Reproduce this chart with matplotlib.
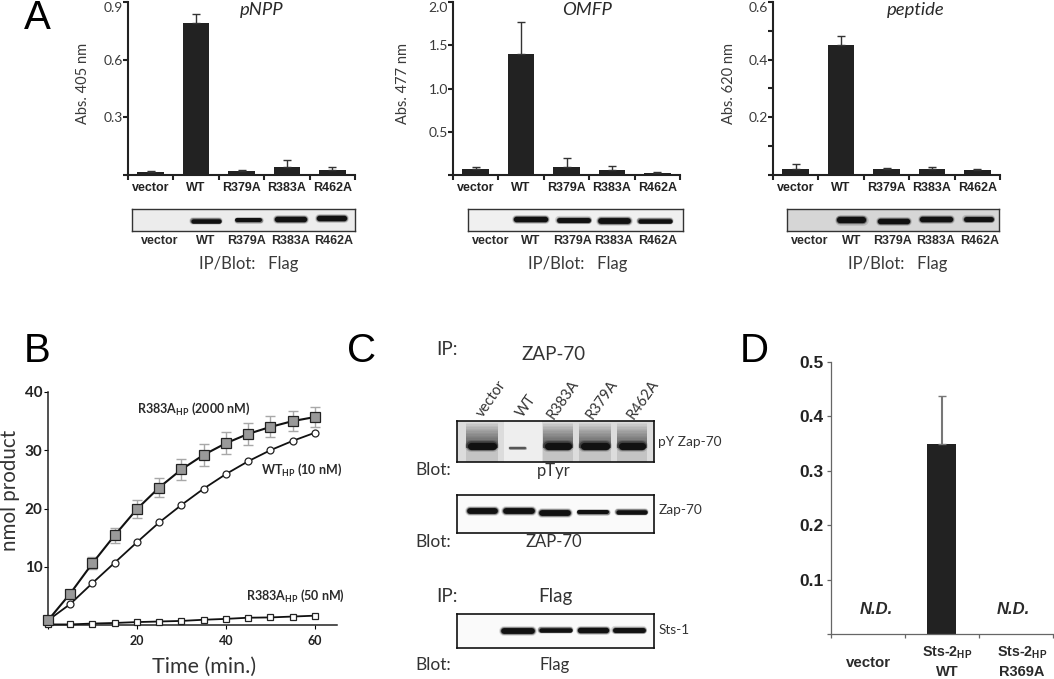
import matplotlib
matplotlib.use('Agg')
import matplotlib.pyplot as plt
from matplotlib.patches import Rectangle

W, H = 1054, 679
plt.rcParams['font.family'] = ['Lato', 'DejaVu Sans']
plt.rcParams['mathtext.default'] = 'regular'

# panel A data
cats = ['vector', 'WT', 'R379A', 'R383A', 'R462A']
pnpp = [0.015, 0.79, 0.02, 0.04, 0.025]
pnpp_top = [0.02, 0.84, 0.027, 0.077, 0.04]
omfp = [0.07, 1.40, 0.09, 0.055, 0.02]
omfp_top = [0.095, 1.77, 0.20, 0.105, 0.03]
pept = [0.022, 0.45, 0.02, 0.02, 0.017]
pept_top = [0.037, 0.482, 0.023, 0.027, 0.02]

# panel B data
time = [0, 5, 10, 15, 20, 25, 30, 35, 40, 45, 50, 55, 60]
r383a_2000 = [0.8, 5.4, 10.6, 15.4, 19.9, 23.6, 26.7, 29.2, 31.2, 32.8, 34.0, 35.0, 35.7]
r383a_err = [0.1, 0.5, 1.0, 1.3, 1.6, 1.7, 1.8, 1.9, 1.85, 1.85, 1.8, 1.7, 1.7]
wt_10 = [0.8, 3.6, 7.2, 10.7, 14.2, 17.6, 20.6, 23.4, 25.9, 28.1, 30.0, 31.6, 33.0]
r383a_50 = [0.1, 0.1, 0.25, 0.35, 0.5, 0.6, 0.7, 0.9, 1.05, 1.25, 1.3, 1.45, 1.6]

# panel D data
d_val = [0, 0.35, 0]
d_top = 0.438

# blot bands, (left, right, y centre, thickness) in picture pixels
a1_bands = [(190, 221, 221, 5), (235, 262, 220, 4.5), (274, 307, 218.5, 6), (316, 347, 218, 6)]
a2_bands = [(513, 548, 218.5, 6), (556, 591, 220, 5.5), (598, 631, 221, 6.5), (637, 672, 221, 5)]
a3_bands = [(836, 866, 220, 7), (877, 910, 220.5, 6), (919, 953, 219, 6), (963, 994, 218.5, 5.5)]
c2_bands = [(467, 498, 511, 6.5), (503, 535, 510.5, 6.5), (539, 571, 512.5, 6.5), (577, 609, 512, 4.5), (615, 647, 511.5, 5)]
c3_bands = [(501, 535, 631, 6.5), (538, 572, 629.5, 5), (577, 609, 629.5, 6), (612, 646, 630, 5.5)]
c1_lanes = [(466, 498), (507, 541), (543, 573), (579, 611), (617, 647)]
c1_strength = [1.0, 0.2, 1.0, 0.9, 0.9]


def px_axes(x0, x1, y_top, y_bot):
    return fig.add_axes([x0 / W, 1 - y_bot / H, (x1 - x0) / W, (y_bot - y_top) / H])


def txt(x, y, s, size=11, weight='normal', ha='center', family=None, **kw):
    fam = family if family else ['Lato', 'DejaVu Sans']
    fig.text(x / W, 1 - y / H, s, fontsize=size, fontweight=weight, ha=ha, va='center',
             family=fam, color=kw.pop('color', '#2a2a2a'), **kw)


def bar_panel(x0, vals, tops, ymax, yticks, ylabels, title, ylab, title_x, ylab_x):
    ax = px_axes(x0, x0 + 227, 2, 175)
    pos = range(5)
    ax.bar(pos, vals, width=0.59, color='#222222')
    errs = [t - v for t, v in zip(tops, vals)]
    ax.errorbar(pos, vals, yerr=[[0] * 5, errs], fmt='none', ecolor='#333333', elinewidth=1,
                capsize=3, capthick=1)
    ax.set_xlim(-0.5, 4.5)
    ax.set_ylim(0, ymax)
    for s in ['top', 'right']:
        ax.spines[s].set_visible(False)
    for s in ['left', 'bottom']:
        ax.spines[s].set_linewidth(1.5)
        ax.spines[s].set_color('#222222')
    ax.set_xticks([i - 0.5 for i in range(6)], [''] * 6)
    ax.tick_params(axis='x', length=3.5, width=1.5, color='#222222')
    ax.set_xticks(list(pos), cats, minor=True, fontsize=9, fontweight='bold', family='Liberation Sans')
    ax.tick_params(axis='x', which='minor', length=0, pad=5, labelcolor='#222222')
    ax.set_yticks([0] + yticks, [''] + ylabels, fontsize=10, color='#3a3a3a')
    ax.tick_params(axis='y', length=3.5, width=1.5, color='#222222', pad=0)
    # the top label hangs below its tick so it stays inside the picture
    ax.get_yticklabels()[-1].set_va('top')
    ax.patch.set_alpha(0)
    txt(title_x, 10, title, size=13.3, style='italic')
    txt(ylab_x, 83, ylab, size=10.5, rotation=90, color='#3a3a3a')


def draw_band(ax, x0, x1, y, h, col='#111111'):
    px = 0.72
    ax.plot([x0 + h / 2, x1 - h / 2], [y, y], color=col, lw=h * 1.5 * px, alpha=0.15, solid_capstyle='round')
    ax.plot([x0 + h / 2, x1 - h / 2], [y, y], color=col, lw=h * 1.2 * px, alpha=0.4, solid_capstyle='round')
    ax.plot([x0 + h / 2, x1 - h / 2], [y, y], color=col, lw=h * 0.9 * px, solid_capstyle='round')


def blot(x0, x1, y0, y1, bands, bg='#ececec', edge='#333333', lw=1.0):
    ax = px_axes(x0, x1, y0, y1)
    ax.set_xlim(x0, x1)
    ax.set_ylim(y1, y0)
    ax.set_facecolor(bg)
    ax.set_xticks([])
    ax.set_yticks([])
    for s in ax.spines.values():
        s.set_linewidth(lw)
        s.set_color(edge)
    for b in bands:
        draw_band(ax, *b)
    return ax


fig = plt.figure(figsize=(W / 100, H / 100), dpi=100, facecolor='white')

# panel A
bar_panel(128, pnpp, pnpp_top, 0.9, [0.3, 0.6, 0.9], ['0.3', '0.6', '0.9'], 'pNPP', 'Abs. 405 nm', 262, 83)
bar_panel(453, omfp, omfp_top, 2.0, [0.5, 1.0, 1.5, 2.0], ['0.5', '1.0', '1.5', '2.0'], 'OMFP', 'Abs. 477 nm', 587, 403)
bar_panel(773, pept, pept_top, 0.6, [0.1, 0.2, 0.3, 0.4, 0.5, 0.6], ['', '0.2', '', '0.4', '', '0.6'], 'peptide', 'Abs. 620 nm', 916, 729)

blot(132, 355, 209, 231, a1_bands, bg='#ececec')
blot(468, 683, 209, 231, a2_bands, bg='#f0f0f0')
blot(787, 999, 209, 231, a3_bands, bg='#d6d6d6')

lab_x = [[160, 206, 247, 291, 334], [491, 531, 573, 614, 658], [810, 852, 893, 936, 980]]
for xs in lab_x:
    for x, c in zip(xs, cats):
        txt(x, 241, c, size=9, weight='bold', family='Liberation Sans')
for x in [249, 578, 898]:
    txt(x, 264, 'IP/Blot:   Flag', size=12, color='#3a3a3a')

# panel letters
for x, y, s in [(37, 18, 'A'), (37, 351, 'B'), (362, 351, 'C'), (754, 351, 'D')]:
    txt(x, y, s, size=29, family='Liberation Sans', color='black')

# panel B
ax = px_axes(48, 337, 392, 625)
ax.errorbar(time, r383a_2000, yerr=r383a_err, fmt='none', ecolor='#a8a8a8', elinewidth=1, capsize=3.5, capthick=1, zorder=1)
ax.plot(time, r383a_50, '-s', color='#111111', mfc='white', mec='#222222', ms=5, mew=0.9, lw=1.3, clip_on=False, zorder=3)
ax.plot(time, wt_10, '-o', color='#111111', mfc='white', mec='#222222', ms=5, mew=0.9, lw=1.3, clip_on=False, zorder=3)
ax.plot(time, r383a_2000, '-s', color='#111111', mfc='#999999', mec='#222222', ms=6.7, mew=0.9, lw=1.5, clip_on=False, zorder=4)
ax.set_xlim(0, 65)
ax.set_ylim(0, 40)
for s in ['top', 'right']:
    ax.spines[s].set_visible(False)
for s in ['left', 'bottom']:
    ax.spines[s].set_linewidth(1.1)
    ax.spines[s].set_color('#222222')
ax.set_xticks([0, 20, 40, 60], ['', '20', '40', '60'], fontsize=9, fontweight='bold')
ax.set_yticks([0, 10, 20, 30, 40], ['', '10', '20', '30', '40'], fontsize=11, fontweight='bold')
ax.tick_params(axis='x', length=3, pad=4, labelcolor='#222222')
ax.tick_params(axis='y', length=3, pad=1, labelcolor='#222222')
ax.patch.set_alpha(0)
txt(10, 490, 'nmol product', size=14.8, rotation=90, color='#333333')
txt(204, 667, 'Time (min.)', size=15.5, color='#333333')
txt(137, 409, 'R383A$_{HP}$ (2000 nM)', size=9, weight='bold', ha='left')
txt(261, 470, 'WT$_{HP}$ (10 nM)', size=9, weight='bold', ha='left')
txt(246, 596, 'R383A$_{HP}$ (50 nM)', size=9, weight='bold', ha='left')

# panel C
c_x = lambda z: 350 + z / 3
c_y = lambda z: 330 + z / 3
ax1 = blot(456.5, 654, 420.5, 462, [], bg='#dcdcdc', edge='#111111', lw=1.2)
for (l, r), st in zip(c1_lanes, c1_strength):
    if st < 0.5:
        ax1.add_patch(Rectangle((l - 3, 421), r - l + 4, 41, color='#eeeeee', lw=0))
        draw_band(ax1, l + 2, r - 15, 447.5, 2.5, col='#555555')
        continue
    # smear fades upward from the band
    for k in range(16):
        top = 423 + k * 1.4
        ax1.add_patch(Rectangle((l, top), r - l, 448 - top, color='#1a1a1a', alpha=0.055 * st, lw=0))
    ax1.add_patch(Rectangle((l, 448), r - l, 14, color='#c4c4c4', lw=0))
    draw_band(ax1, l + 1, r - 1, 446, 8)
blot(456.5, 654, 495, 532.5, c2_bands, bg='#fafafa', edge='#111111', lw=1.2)
blot(456.5, 654, 614, 647.5, c3_bands, bg='#fafafa', edge='#111111', lw=1.2)
c_rot = [('vector', 425, 207), ('WT', 530, 227), ('R383A', 640, 207), ('R379A', 755, 208), ('R462A', 880, 208)]
for s, zx, zy in c_rot:
    txt(c_x(zx), c_y(zy), s, size=10.5, rotation=55, color='#333333')
for zx, zy, s, ha, sz in [(260, 60, 'IP:', 'left', 13.5), (612, 72, 'ZAP-70', 'center', 13.5),
                          (925, 335, 'pY Zap-70', 'left', 9.8), (195, 420, 'Blot:', 'left', 12.5),
                          (612, 422, 'pTyr', 'center', 12), (925, 540, 'Zap-70', 'left', 9.8),
                          (195, 637, 'Blot:', 'left', 12.5), (612, 637, 'ZAP-70', 'center', 12),
                          (260, 798, 'IP:', 'left', 13.5), (615, 800, 'Flag', 'center', 13.5),
                          (925, 900, 'Sts-1', 'left', 9.8), (195, 1005, 'Blot:', 'left', 12.5),
                          (615, 1005, 'Flag', 'center', 12)]:
    txt(c_x(zx), c_y(zy), s, size=sz, ha=ha, color='#333333')

# panel D
ax = px_axes(830.5, 1053, 362, 634)
ax.bar([0, 1, 2], d_val, width=0.39, color='#222222')
ax.errorbar([1], [d_val[1]], yerr=[[0], [d_top - d_val[1]]], fmt='none', ecolor='#777777', elinewidth=1.5, capsize=3, capthick=1)
ax.set_xlim(-0.5, 2.5)
ax.set_ylim(0, 0.5)
for s in ['top', 'right']:
    ax.spines[s].set_visible(False)
for s in ['left', 'bottom']:
    ax.spines[s].set_linewidth(0.9)
    ax.spines[s].set_color('#666666')
ax.set_xticks([-0.5, 0.5, 1.5, 2.5], [''] * 4)
ax.set_yticks([0, 0.1, 0.2, 0.3, 0.4, 0.5], ['', '0.1', '0.2', '0.3', '0.4', '0.5'], fontsize=12.5,
              fontweight='bold', family='Liberation Sans')
ax.tick_params(length=3, width=0.9, color='#666666', pad=2, labelcolor='#222222')
ax.patch.set_alpha(0)
txt(876, 609, 'N.D.', size=12, weight='bold', style='italic', family='Liberation Sans')
txt(1013, 609, 'N.D.', size=12, weight='bold', style='italic', family='Liberation Sans')
txt(868, 663, 'vector', size=10.8, weight='bold', family='Liberation Sans')
txt(947, 653, 'Sts-2$_{HP}$', size=10.3, weight='bold', family='Liberation Sans')
txt(947, 672, 'WT', size=10.5, weight='bold', family='Liberation Sans')
txt(1022, 653, 'Sts-2$_{HP}$', size=10.3, weight='bold', family='Liberation Sans')
txt(1022, 672, 'R369A', size=10.5, weight='bold', family='Liberation Sans')

fig.savefig('out.png', dpi=100)
